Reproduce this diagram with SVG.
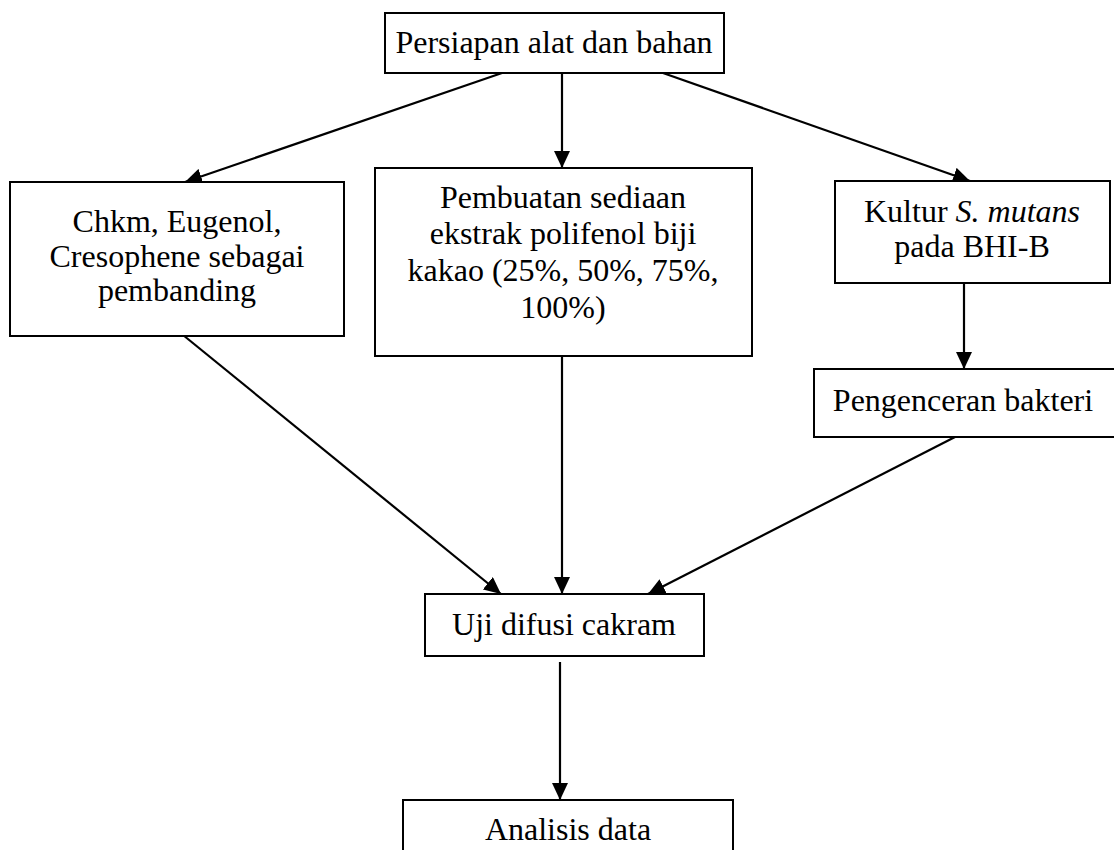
<svg xmlns="http://www.w3.org/2000/svg" width="1114" height="850" viewBox="0 0 1114 850">
<style>
.box{fill:#fff;stroke:#000;stroke-width:2}
.t{font-size:32px;fill:#000;text-anchor:middle}
.c{stroke:#000;stroke-width:2.2;fill:none;marker-end:url(#ah)}
</style>
<defs>
<marker id="ah" markerUnits="userSpaceOnUse" markerWidth="18" markerHeight="16" viewBox="0 0 18 16" refX="17" refY="8" orient="auto">
<path d="M0,0 L17,8 L0,16 Z" fill="#000"/>
</marker>
</defs>
<rect width="1114" height="850" fill="#fff"/>
<g id="connectors">
<line class="c" x1="562" y1="73" x2="562" y2="168"/>
<line class="c" x1="502" y1="73" x2="185" y2="182"/>
<line class="c" x1="663" y1="73" x2="970" y2="181"/>
<line class="c" x1="964" y1="283" x2="964" y2="369"/>
<line class="c" x1="183" y1="335" x2="501" y2="594"/>
<line class="c" x1="562" y1="356" x2="562" y2="594"/>
<line class="c" x1="955" y1="437" x2="648" y2="594"/>
<line class="c" x1="560" y1="662" x2="560" y2="800"/>
</g>
<g font-family="'Times New Roman', 'Liberation Serif', 'DejaVu Serif', serif">
<g id="n-persiapan">
<rect class="box" x="385" y="13" width="339" height="60"/>
<text class="t" x="554" y="53">Persiapan alat dan bahan</text>
</g>
<g id="n-chkm">
<rect class="box" x="10" y="182" width="334" height="154"/>
<text class="t" x="177" y="232">Chkm, Eugenol,</text>
<text class="t" x="177" y="267">Cresophene sebagai</text>
<text class="t" x="177" y="301">pembanding</text>
</g>
<g id="n-pembuatan">
<rect class="box" x="375" y="168" width="377" height="188"/>
<text class="t" x="563" y="208">Pembuatan sediaan</text>
<text class="t" x="563" y="244">ekstrak polifenol biji</text>
<text class="t" x="563" y="281">kakao (25%, 50%, 75%,</text>
<text class="t" x="563" y="318">100%)</text>
</g>
<g id="n-kultur">
<rect class="box" x="835" y="181" width="275" height="102"/>
<text class="t" x="972" y="222">Kultur <tspan font-style="italic">S. mutans</tspan></text>
<text class="t" x="972" y="257">pada BHI-B</text>
</g>
<g id="n-pengenceran">
<rect class="box" x="814" y="369" width="310" height="68"/>
<text class="t" x="963" y="411">Pengenceran bakteri</text>
</g>
<g id="n-uji">
<rect class="box" x="425" y="594" width="279" height="62"/>
<text class="t" x="564" y="635">Uji difusi cakram</text>
</g>
<g id="n-analisis">
<rect class="box" x="403" y="800" width="330" height="70"/>
<text class="t" x="568" y="840">Analisis data</text>
</g>
</g>
</svg>
